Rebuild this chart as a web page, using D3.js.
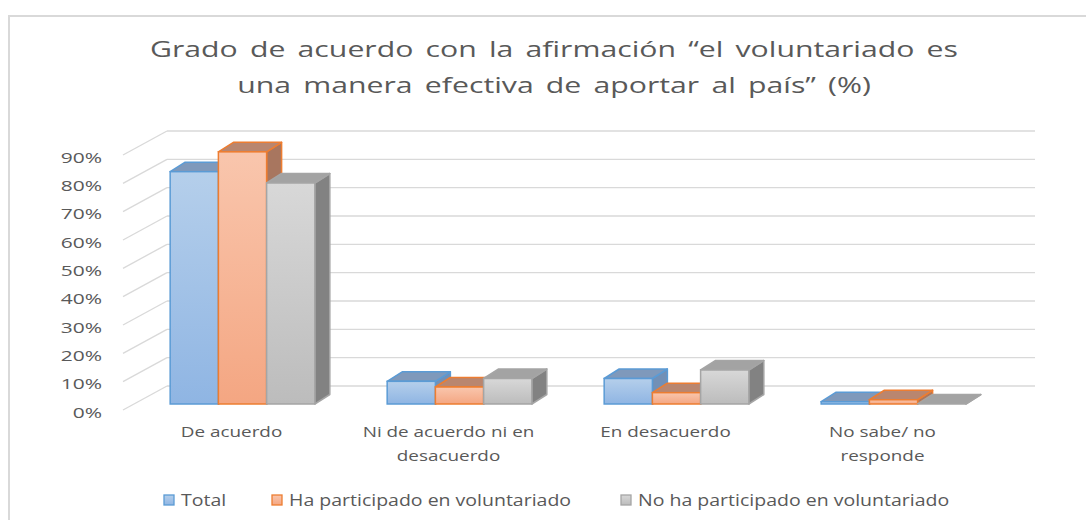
<!DOCTYPE html>
<meta charset="utf-8">
<style>
body { margin: 0; background: #fff; }
text { font-family: "Open Sans", sans-serif; fill: #595959; }
.grid { stroke: #d9d9d9; stroke-width: 1.3px; fill: none; }
</style>
<svg width="1086" height="520"></svg>
<script src="https://cdn.jsdelivr.net/npm/d3@7"></script>
<script>

// data (percent)
var categories = ["De acuerdo", "Ni de acuerdo ni en desacuerdo", "En desacuerdo", "No sabe/ no responde"];
var categoryLines = [["De acuerdo"], ["Ni de acuerdo ni en", "desacuerdo"], ["En desacuerdo"], ["No sabe/ no", "responde"]];
var series = ["Total", "Ha participado en voluntariado", "No ha participado en voluntariado"];
var total = [82, 8, 9, 0.8];
var participated = [89, 6, 4, 1.5];
var notParticipated = [78, 9, 12, 0];
var yTicks = [0, 10, 20, 30, 40, 50, 60, 70, 80, 90];
var titleLines = ["Grado de acuerdo con la afirmación \u201cel voluntariado es", "una manera efectiva de aportar al país\u201d (%)"];

var values = [total, participated, notParticipated];

var colors = [
  {key: "blue", light: "#b5cfeb", dark: "#8fb5e3", stroke: "#5b9bd5", top: "#7f99bb", side: "#7290b6"},
  {key: "orange", light: "#f9c6ad", dark: "#f4a682", stroke: "#ed7d31", top: "#b9866f", side: "#a8765f"},
  {key: "gray", light: "#d8d8d8", dark: "#bcbcbc", stroke: "#a5a5a5", top: "#a3a3a3", side: "#828282"}
];

var svg = d3.select("svg");

// chart frame
svg.append("rect")
    .attr("x", 9).attr("y", 16)
    .attr("width", 1200).attr("height", 600)
    .attr("fill", "#fff")
    .attr("stroke", "#d9d9d9")
    .attr("stroke-width", 2);

var defs = svg.append("defs");
colors.forEach(function(c) {
  var g = defs.append("linearGradient")
      .attr("id", "grad-" + c.key)
      .attr("x1", 0).attr("y1", 0).attr("x2", 0).attr("y2", 1);
  g.append("stop").attr("offset", "0%").attr("stop-color", c.light);
  g.append("stop").attr("offset", "100%").attr("stop-color", c.dark);
});

// oblique 3d: floor depth and bar depth
var floorDx = 44, floorDy = 24;
var barZ = 0.25;                    // bars start a quarter into the floor
var barDx = 15, barDy = 9.5;

var y = d3.scaleLinear().domain([0, 90]).range([410, 155]);

var x0 = d3.scaleBand().domain(categories).range([123, 991]);
var x1 = d3.scaleBand().domain(series).range([0, x0.bandwidth()]).paddingOuter(0.75);

// back wall + side wall gridlines
var grid = svg.append("g");
grid.selectAll(".back")
  .data(yTicks)
  .enter().append("line")
    .attr("class", "grid")
    .attr("x1", 123 + floorDx).attr("x2", 991 + floorDx)
    .attr("y1", function(d) { return y(d) - floorDy; })
    .attr("y2", function(d) { return y(d) - floorDy; });
grid.selectAll(".side")
  .data(yTicks)
  .enter().append("line")
    .attr("class", "grid")
    .attr("x1", 123).attr("x2", 123 + floorDx)
    .attr("y1", function(d) { return y(d); })
    .attr("y2", function(d) { return y(d) - floorDy; });

// y tick labels
svg.append("g").selectAll("text")
  .data(yTicks)
  .enter().append("text")
    .attr("transform", function(d) { return "translate(102," + (y(d) + 7.5) + ") scale(1.4,1)"; })
    .attr("text-anchor", "end")
    .style("font-size", "15px")
    .text(function(d) { return d + "%"; });

// bars, left to right so later fronts hide earlier sides
var bars = [];
categories.forEach(function(cat, i) {
  series.forEach(function(s, j) {
    bars.push({cat: cat, s: s, j: j, v: values[j][i]});
  });
});

var bar = svg.append("g").selectAll("g")
  .data(bars)
  .enter().append("g");

function fx(d) { return x0(d.cat) + x1(d.s) + barZ * floorDx; }
function yTop(d) { return y(d.v) - barZ * floorDy; }
function yBot(d) { return y(0) - barZ * floorDy; }

bar.append("path")
    .attr("d", function(d) {
      var l = fx(d) + x1.bandwidth(), t = yTop(d), b = yBot(d);
      return "M" + l + "," + t + "L" + (l + barDx) + "," + (t - barDy)
        + "L" + (l + barDx) + "," + (b - barDy) + "L" + l + "," + b + "Z";
    })
    .attr("fill", function(d) { return colors[d.j].side; })
    .attr("stroke", function(d) { return colors[d.j].stroke; })
    .attr("stroke-width", 1.5)
    .attr("stroke-linejoin", "round");

bar.append("path")
    .attr("d", function(d) {
      var l = fx(d), r = l + x1.bandwidth(), t = yTop(d);
      return "M" + l + "," + t + "L" + (l + barDx) + "," + (t - barDy)
        + "L" + (r + barDx) + "," + (t - barDy) + "L" + r + "," + t + "Z";
    })
    .attr("fill", function(d) { return colors[d.j].top; })
    .attr("stroke", function(d) { return colors[d.j].stroke; })
    .attr("stroke-width", 1.5)
    .attr("stroke-linejoin", "round");

bar.append("rect")
    .attr("x", fx)
    .attr("y", yTop)
    .attr("width", x1.bandwidth())
    .attr("height", function(d) { return yBot(d) - yTop(d); })
    .attr("fill", function(d) { return "url(#grad-" + colors[d.j].key + ")"; })
    .attr("stroke", function(d) { return colors[d.j].stroke; })
    .attr("stroke-width", 1.5);

// category labels
var catLabel = svg.append("g").selectAll("g")
  .data(categories)
  .enter().append("g")
    .attr("transform", function(d) { return "translate(" + (x0(d) + x0.bandwidth() / 2) + ",437)"; });

catLabel.selectAll("text")
  .data(function(d, i) { return categoryLines[i]; })
  .enter().append("text")
    .attr("transform", function(d, i) { return "translate(0," + (i * 23.5) + ") scale(1.26,1)"; })
    .attr("text-anchor", "middle")
    .style("font-size", "15px")
    .text(function(d) { return d; });

// title
svg.append("g").selectAll("text")
  .data(titleLines)
  .enter().append("text")
    .attr("transform", function(d, i) { return "translate(554," + (57 + i * 36) + ") scale(1.44,1)"; })
    .attr("text-anchor", "middle")
    .style("font-size", "21px")
    .style("word-spacing", "3px")
    .text(function(d) { return d; });

// legend
var legendX = [164, 272, 621];
var legend = svg.append("g").selectAll("g")
  .data(series)
  .enter().append("g")
    .attr("transform", function(d, i) { return "translate(" + legendX[i] + ",495)"; });

legend.append("rect")
    .attr("width", 10).attr("height", 10)
    .attr("fill", function(d, i) { return "url(#grad-" + colors[i].key + ")"; })
    .attr("stroke", function(d, i) { return colors[i].stroke; })
    .attr("stroke-width", 1.3);

legend.append("text")
    .attr("transform", "translate(17,11) scale(1.22,1)")
    .style("font-size", "16px")
    .text(function(d) { return d; });

</script>
